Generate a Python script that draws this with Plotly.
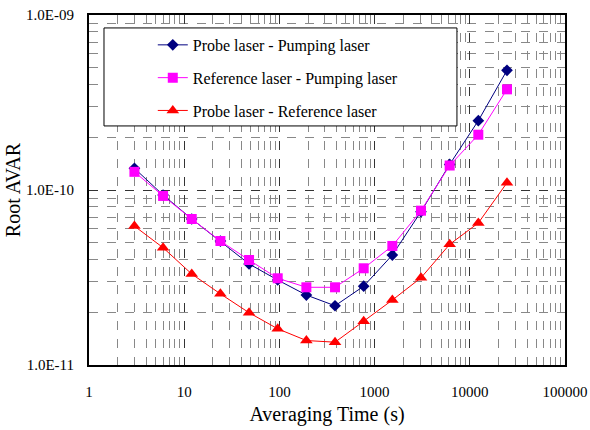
import plotly.graph_objects as go

tau = [3, 6, 12, 24, 48, 96, 192, 384, 768, 1536, 3072, 6144, 12288, 24576]
probe_pump = [1.33e-10, 9.36e-11, 6.83e-11, 5.11e-11, 3.78e-11, 3.06e-11, 2.51e-11,
              2.18e-11, 2.82e-11, 4.25e-11, 7.52e-11, 1.40e-10, 2.49e-10, 4.83e-10]
ref_pump = [1.27e-10, 9.25e-11, 6.83e-11, 5.11e-11, 3.98e-11, 3.13e-11, 2.78e-11,
            2.78e-11, 3.57e-11, 4.79e-11, 7.62e-11, 1.38e-10, 2.07e-10, 3.76e-10]
probe_ref = [6.22e-11, 4.68e-11, 3.31e-11, 2.55e-11, 1.99e-11, 1.61e-11, 1.38e-11,
             1.35e-11, 1.78e-11, 2.35e-11, 3.15e-11, 4.89e-11, 6.48e-11, 1.10e-10]

names = ["Probe laser - Pumping laser", "Reference laser - Pumping laser",
         "Probe laser - Reference laser"]
colors = ["#000080", "#FF00FF", "#FF0000"]
symbols = ["diamond", "square", "triangle-up"]
sizes = [9, 10, 11]

x_ticks = [1, 10, 100, 1000, 10000, 100000]
x_ticktext = ["1", "10", "100", "1000", "10000", "100000"]
y_ticks = [1e-11, 1e-10, 1e-9]
y_ticktext = ["1.0E-11", "1.0E-10", "1.0E-09"]

fig = go.Figure()
for i, ys in enumerate([probe_pump, ref_pump, probe_ref]):
    fig.add_trace(go.Scatter(
        x=tau, y=ys, mode="lines+markers", name=names[i],
        legendgroup=str(i),
        line=dict(color=colors[i], width=1),
        marker=dict(symbol=symbols[i], size=sizes[i], color=colors[i]),
    ))

x_minor = [m * 10 ** d for d in range(0, 5) for m in range(2, 10)]
y_minor = [m * 10.0 ** d for d in (-11, -10) for m in range(2, 10)]

font = "Liberation Serif"
fig.update_layout(
    width=590, height=430,
    margin=dict(l=89, r=25, t=15, b=65),
    paper_bgcolor="white", plot_bgcolor="white",
    font=dict(family=font, size=15, color="black"),
    showlegend=True,
    legend=dict(x=0.134, y=0.963, xanchor="left", yanchor="top",
                bgcolor="rgba(0,0,0,0)", borderwidth=0,
                font=dict(family=font, size=16, color="black"),
                traceorder="grouped", tracegroupgap=9),
    shapes=[dict(type="rect", xref="paper", yref="paper",
                 x0=0.0315, x1=0.773, y0=0.683, y1=0.963,
                 line=dict(color="black", width=1), fillcolor="white",
                 layer="above")],
)
fig.update_xaxes(
    type="log", range=[0, 5], automargin=False,
    tickvals=x_ticks, ticktext=x_ticktext,
    showline=True, linecolor="black", linewidth=2, mirror=True,
    showgrid=True, gridcolor="#333333", griddash="dash", gridwidth=1,
    minor=dict(tickvals=x_minor, showgrid=True, gridcolor="#888888",
               griddash="dash", gridwidth=1),
    ticks="", zeroline=False, ticklabelstandoff=12,
    tickfont=dict(family=font, size=15),
    title=dict(text="Averaging Time (s)", font=dict(family=font, size=20), standoff=8),
)
fig.update_yaxes(
    type="log", range=[-11, -9], automargin=False,
    tickvals=y_ticks, ticktext=y_ticktext,
    showline=True, linecolor="black", linewidth=2, mirror=True,
    showgrid=True, gridcolor="#333333", griddash="dash", gridwidth=1,
    minor=dict(tickvals=y_minor, showgrid=True, gridcolor="#888888",
               griddash="dash", gridwidth=1),
    ticks="", zeroline=False, ticklabelstandoff=10,
    tickfont=dict(family=font, size=15),
    title=dict(text="Root AVAR", font=dict(family=font, size=20), standoff=0),
)

fig.write_html("out.html")
